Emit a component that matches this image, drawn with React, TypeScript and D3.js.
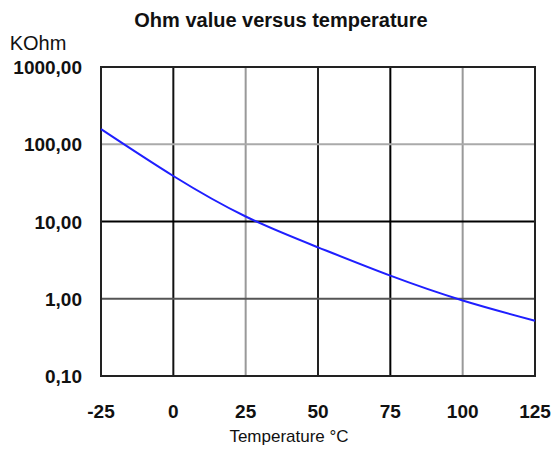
import { useEffect, useRef } from "react"
import * as d3 from "d3"

// readings (temperature in °C, resistance in kOhm)
const temps = [-25, 0, 25, 50, 75, 100, 125]
const kohm = [157, 38.8, 11.6, 4.63, 1.99, 0.95, 0.52]

const xTicks = [-25, 0, 25, 50, 75, 100, 125]
const yTicks = [0.1, 1, 10, 100, 1000]
const yTickLabels = ["0,10", "1,00", "10,00", "100,00", "1000,00"]

// grid colours as they appear in the scan
const xGridColors = ["#000", "#111", "#999", "#222", "#000", "#999", "#000"]
const yGridColors = ["#000", "#555", "#000", "#aaa", "#000"]

export default function App() {
  const svgRef = useRef<SVGSVGElement>(null)
  const width = 553
  const height = 455

  useEffect(() => {
    if (!svgRef.current) return
    const svg = d3.select(svgRef.current)
    svg.selectAll("*").remove()

    const left = 101, right = 535, top = 67, bottom = 376

    const x = d3.scaleLinear().domain([-25, 125]).range([left, right])
    const y = d3.scaleLog().domain([0.1, 1000]).range([bottom, top])

    const font = "'Liberation Sans', Arial, sans-serif"

    // grid
    svg.append("g")
      .selectAll("line")
      .data(xTicks.slice(1, -1))
      .enter()
      .append("line")
      .attr("x1", d => x(d)).attr("x2", d => x(d))
      .attr("y1", top).attr("y2", bottom)
      .attr("stroke", (d, i) => xGridColors[i + 1])
      .attr("stroke-width", 2)

    svg.append("g")
      .selectAll("line")
      .data(yTicks.slice(1, -1))
      .enter()
      .append("line")
      .attr("x1", left).attr("x2", right)
      .attr("y1", d => y(d)).attr("y2", d => y(d))
      .attr("stroke", (d, i) => yGridColors[i + 1])
      .attr("stroke-width", 2)

    // frame
    svg.append("rect")
      .attr("x", left).attr("y", top)
      .attr("width", right - left).attr("height", bottom - top)
      .attr("fill", "none")
      .attr("stroke", "#222")
      .attr("stroke-width", 2)

    // curve
    const line = d3.line<number>()
      .x((d, i) => x(temps[i]))
      .y(d => y(d))
      .curve(d3.curveNatural)

    svg.append("path")
      .datum(kohm)
      .attr("d", line)
      .attr("fill", "none")
      .attr("stroke", "#1f1fff")
      .attr("stroke-width", 2)

    // y labels
    svg.append("g")
      .selectAll("text")
      .data(yTicks)
      .enter()
      .append("text")
      .attr("x", 82)
      .attr("y", d => y(d) + 7)
      .attr("text-anchor", "end")
      .attr("font-family", font)
      .attr("font-weight", "bold")
      .attr("font-size", 19)
      .attr("fill", "#111")
      .text((d, i) => yTickLabels[i])

    // x labels
    svg.append("g")
      .selectAll("text")
      .data(xTicks)
      .enter()
      .append("text")
      .attr("x", d => x(d))
      .attr("y", 418)
      .attr("text-anchor", "middle")
      .attr("font-family", font)
      .attr("font-weight", "bold")
      .attr("font-size", 19)
      .attr("fill", "#111")
      .text(d => String(d))

    svg.append("text")
      .attr("x", 289).attr("y", 442)
      .attr("text-anchor", "middle")
      .attr("font-family", font)
      .attr("font-size", 17)
      .attr("fill", "#111")
      .text("Temperature °C")

    svg.append("text")
      .attr("x", 38).attr("y", 50)
      .attr("text-anchor", "middle")
      .attr("font-family", font)
      .attr("font-size", 20)
      .attr("fill", "#111")
      .text("KOhm")

    svg.append("text")
      .attr("x", 281).attr("y", 27)
      .attr("text-anchor", "middle")
      .attr("font-family", font)
      .attr("font-weight", "bold")
      .attr("font-size", 20)
      .attr("fill", "#111")
      .text("Ohm value versus temperature")
  }, [])

  return (
    <div style={{ position: "absolute", left: 0, top: 0 }}>
      <svg ref={svgRef} width={width} height={height} viewBox={`0 0 ${width} ${height}`}
        style={{ display: "block", background: "#fff" }}></svg>
    </div>
  )
}
